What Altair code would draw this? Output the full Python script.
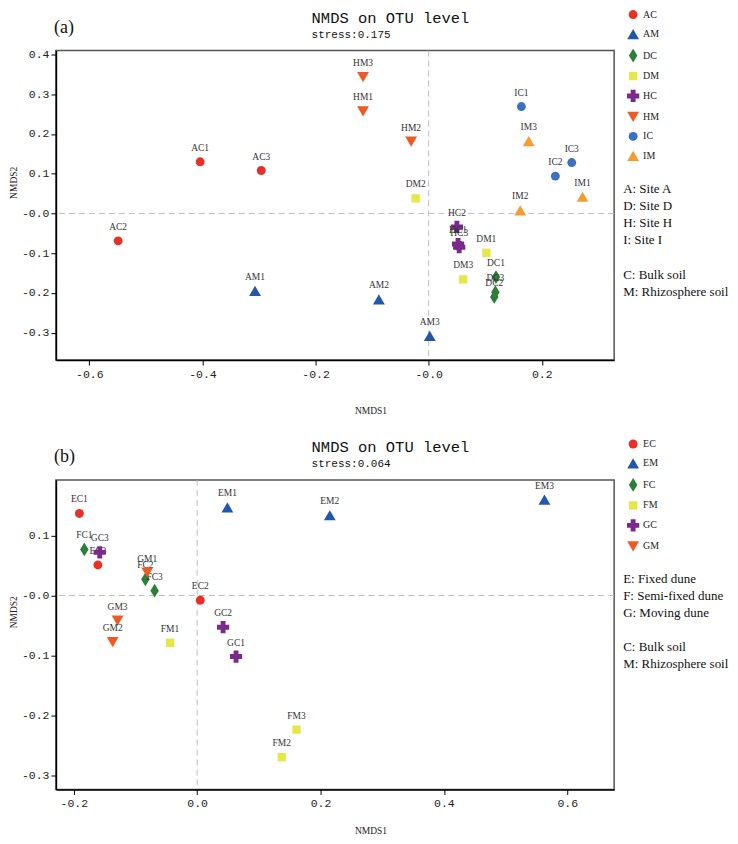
import altair as alt
import pandas as pd

# ---------------- data: panel (a) ----------------
labels_a = ["AC1", "AC2", "AC3", "AM1", "AM2", "AM3", "DC1", "DC2", "DC3",
            "DM1", "DM2", "DM3", "HC1", "HC2", "HC3", "HM1", "HM2", "HM3",
            "IC1", "IC2", "IC3", "IM1", "IM2", "IM3"]
nmds1_a = [-0.404, -0.549, -0.296, -0.307, -0.088, 0.002, 0.119, 0.116, 0.118,
           0.102, -0.023, 0.061, 0.052, 0.050, 0.054, -0.116, -0.031, -0.116,
           0.164, 0.224, 0.253, 0.272, 0.162, 0.177]
nmds2_a = [0.130, -0.069, 0.108, -0.195, -0.216, -0.308, -0.160, -0.210, -0.198,
           -0.099, 0.038, -0.166, -0.077, -0.034, -0.085, 0.257, 0.181, 0.343,
           0.269, 0.094, 0.128, 0.042, 0.008, 0.182]
groups_a = ["AC", "AM", "DC", "DM", "HC", "HM", "IC", "IM"]
sites_a = ["A: Site A", "D: Site D", "H: Site H", "I: Site I"]
xticks_a = [-0.6, -0.4, -0.2, 0.0, 0.2]
yticks_a = [-0.3, -0.2, -0.1, 0.0, 0.1, 0.2, 0.3, 0.4]

# ---------------- data: panel (b) ----------------
labels_b = ["EC1", "EC2", "EC3", "EM1", "EM2", "EM3", "FC1", "FC2", "FC3",
            "FM1", "FM2", "FM3", "GC1", "GC2", "GC3", "GM1", "GM2", "GM3"]
nmds1_b = [-0.191, 0.005, -0.161, 0.049, 0.215, 0.563, -0.183, -0.084, -0.069,
           -0.044, 0.137, 0.161, 0.063, 0.042, -0.158, -0.081, -0.137, -0.129]
nmds2_b = [0.137, -0.008, 0.051, 0.147, 0.134, 0.160, 0.077, 0.027, 0.008,
           -0.079, -0.270, -0.224, -0.102, -0.053, 0.072, 0.038, -0.078, -0.042]
groups_b = ["EC", "EM", "FC", "FM", "GC", "GM"]
sites_b = ["E: Fixed dune", "F: Semi-fixed dune", "G: Moving dune"]
xticks_b = [-0.2, 0.0, 0.2, 0.4, 0.6]
yticks_b = [-0.3, -0.2, -0.1, 0.0, 0.1]

soil_key = ["C: Bulk soil", "M: Rhizosphere soil"]
TITLE = "NMDS on OTU level"

# ---------------- styles ----------------
DIAMOND = "M0,-1L0.62,0L0,1L-0.62,0Z"
colors_a = ["#e8302a", "#2356a8", "#2e7d3a", "#e6e84a", "#7b2a8c", "#ee5a24", "#3d6fc4", "#f39c34"]
shapes_a = ["circle", "triangle-up", DIAMOND, "square", "cross", "triangle-down", "circle", "triangle-up"]
sizes_a = [80, 140, 190, 70, 150, 140, 80, 140]
colors_b = colors_a[:6]
shapes_b = shapes_a[:6]
sizes_b = sizes_a[:6]

MONO = "Liberation Mono"
SERIF = "Liberation Serif"
W, H = 559, 310


def panel(labels, xs, ys, groups, colors, shapes, sizes, xdom, ydom, xticks, yticks,
          xzero_minus, tag, stress, sites, sites_y, soil_y, xtitle_y):
    df = pd.DataFrame({"label": labels, "NMDS1": xs, "NMDS2": ys})
    df["group"] = df["label"].str[:2]

    xlab = ("datum.value == 0 ? '-0.0' : replace(format(datum.value, '.1f'), '\u2212', '-')"
            if xzero_minus else
            "datum.value == 0 ? '0.0' : replace(format(datum.value, '.1f'), '\u2212', '-')")
    ylab = "datum.value == 0 ? '-0.0' : replace(format(datum.value, '.1f'), '\u2212', '-')"
    common_axis = dict(grid=False, tickSize=5, tickColor="black", tickWidth=1,
                       domainColor="black", domainWidth=1.5,
                       labelFont=MONO, labelFontSize=11.5, labelColor="#222",
                       titleFont=SERIF, titleFontSize=9.5, titleFontWeight="normal",
                       titleColor="#222")
    xaxis = alt.Axis(values=xticks, labelExpr=xlab, title="NMDS1", labelPadding=3,
                     titleX=315, titleY=xtitle_y, titleBaseline="middle", **common_axis)
    yaxis = alt.Axis(values=yticks, labelExpr=ylab, title="NMDS2", labelPadding=2,
                     titleX=-42, titleY=132, titleAngle=-90, titleBaseline="middle",
                     titleAlign="center", **common_axis)
    xsc = alt.Scale(domain=xdom, nice=False, zero=False)
    ysc = alt.Scale(domain=ydom, nice=False, zero=False)
    X = alt.X("NMDS1:Q", scale=xsc, axis=xaxis)
    Y = alt.Y("NMDS2:Q", scale=ysc, axis=yaxis)

    leg = alt.Legend(title=None, orient="none", legendX=571, legendY=-41,
                     symbolStrokeWidth=0, labelFont=SERIF,
                     labelFontSize=10, labelColor="#222", labelOffset=3,
                     rowPadding=8.5, padding=0)
    color = alt.Color("group:N", scale=alt.Scale(domain=groups, range=colors), legend=leg)
    shape = alt.Shape("group:N", scale=alt.Scale(domain=groups, range=shapes), legend=leg)
    size = alt.Size("group:N", scale=alt.Scale(type="ordinal", domain=groups, range=sizes),
                    legend=leg)

    layers = []
    rule_df_x = pd.DataFrame({"NMDS1": [0.0]})
    rule_df_y = pd.DataFrame({"NMDS2": [0.0]})
    layers.append(alt.Chart(rule_df_x).mark_rule(color="#bdbdbd", strokeDash=[6, 4], strokeWidth=1)
                  .encode(x=X))
    layers.append(alt.Chart(rule_df_y).mark_rule(color="#bdbdbd", strokeDash=[6, 4], strokeWidth=1)
                  .encode(y=Y))
    for g in groups:
        sub = alt.Chart(df).transform_filter(alt.datum.group == g)
        layers.append(sub.mark_point(filled=True, opacity=1, strokeWidth=0)
                      .encode(x=X, y=Y, color=color, shape=shape, size=size))
        layers.append(sub.mark_text(dy=-14, font=SERIF, fontSize=9.5, color="#333")
                      .encode(x=X, y=Y, text="label:N"))

    one = pd.DataFrame({"k": [0]})
    # panel tag
    layers.append(alt.Chart(one).mark_text(align="left", baseline="middle", font=SERIF,
                                           fontSize=18, color="#111")
                  .encode(x=alt.value(-2), y=alt.value(-23), text=alt.value(tag)))
    # title + stress line
    layers.append(alt.Chart(one).mark_text(align="left", baseline="middle", font=MONO,
                                           fontSize=15.5, color="#111")
                  .encode(x=alt.value(256), y=alt.value(-33), text=alt.value(TITLE)))
    layers.append(alt.Chart(one).mark_text(align="left", baseline="middle", font=MONO,
                                           fontSize=11, color="#111")
                  .encode(x=alt.value(256), y=alt.value(-16), text=alt.value(stress)))
    # key text on the right
    layers.append(alt.Chart(one).mark_text(align="left", baseline="top", font=SERIF,
                                           fontSize=13, lineHeight=17, color="#111")
                  .encode(x=alt.value(568), y=alt.value(sites_y), text=alt.value(sites)))
    layers.append(alt.Chart(one).mark_text(align="left", baseline="top", font=SERIF,
                                           fontSize=13, lineHeight=17, color="#111")
                  .encode(x=alt.value(568), y=alt.value(soil_y), text=alt.value(soil_key)))

    return alt.layer(*layers).properties(width=W, height=H)


pa = panel(labels_a, nmds1_a, nmds2_a, groups_a, colors_a, shapes_a, sizes_a,
           [-0.659, 0.328], [-0.369, 0.41], xticks_a, yticks_a, True, "(a)",
           "stress:0.175", sites_a, 133, 219, 50)
pb = panel(labels_b, nmds1_b, nmds2_b, groups_b, colors_b, shapes_b, sizes_b,
           [-0.229, 0.676], [-0.324, 0.193], xticks_b, yticks_b, False, "(b)",
           "stress:0.064", sites_b, 93, 161, 41)

chart = (alt.vconcat(pa, pb, spacing=22)
         .resolve_scale(color="independent", shape="independent", size="independent",
                        x="independent", y="independent")
         .properties(padding=0)
         .configure_view(stroke="#555", strokeWidth=1.5)
         .configure_legend(symbolStrokeWidth=0))

chart.save("out.html", embed_options={"renderer": "svg", "actions": False})
